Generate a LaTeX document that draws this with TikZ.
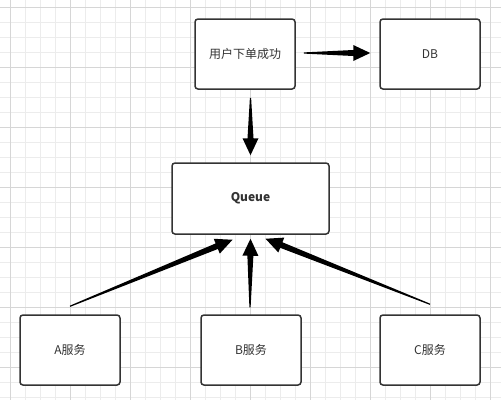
\documentclass[tikz,border=0pt]{standalone}
\usepackage{fontspec}
\setmainfont{Noto Sans CJK SC}
\usetikzlibrary{calc}
\definecolor{gridmajor}{HTML}{D6D6D6}
\definecolor{gridminor}{HTML}{ECECEC}
\definecolor{boxline}{HTML}{333333}
\definecolor{txt}{HTML}{333333}
\newcommand\taparrow[2]{%
  \coordinate (hb) at ($(#2)!17pt!(#1)$);
  \fill[arrowfill] ($(#1)!0.6pt!90:(#2)$) -- ($(hb)!3pt!90:(#2)$) -- ($(hb)!8pt!90:(#2)$) -- (#2)
    -- ($(hb)!8pt!-90:(#2)$) -- ($(hb)!3pt!-90:(#2)$) -- ($(#1)!0.6pt!-90:(#2)$) -- cycle;}
\tikzset{
  box/.style={draw=boxline, line width=1.5pt, rounded corners=3pt, fill=white,
    minimum width=100pt, minimum height=70pt, inner sep=0pt, text=txt,
    font=\fontsize{12}{14}\selectfont},
  arrowfill/.style={fill=black},
  minorline/.style={draw=gridminor, line width=0.8pt},
  majorline/.style={draw=gridmajor, line width=0.8pt}
}
\begin{document}
\begin{tikzpicture}[x=1pt,y=-1pt]
\useasboundingbox (0,0) rectangle (501,400);
\fill[white] (0,0) rectangle (501,400);
\foreach \x in {10,25,...,500} \draw[minorline] (\x,0) -- (\x,400);
\foreach \y in {7,22,...,400} \draw[minorline] (0,\y) -- (501,\y);
\foreach \x in {10,70,...,500} \draw[majorline] (\x,0) -- (\x,400);
\foreach \y in {7,67,...,400} \draw[majorline] (0,\y) -- (501,\y);

\node[box] (user) at (245,54) {用户下单成功};
\node[box] (db) at (430,54) {DB};
\node[box, minimum width=157pt, minimum height=71pt, font=\fontsize{12}{14}\selectfont\bfseries] (queue) at (250.5,198.5) {Queue};
\node[box] (sa) at (70,350) {A服务};
\node[box] (sb) at (251,350) {B服务};
\node[box] (sc) at (430,350) {C服务};

\coordinate (u1) at ($(user.east)+(8,-1)$);
\coordinate (d1) at ($(db.west)+(-9,-1)$);
\taparrow{u1}{d1}
\coordinate (u2) at ($(queue.north |- user.south)+(0,8)$);
\coordinate (q2) at ($(queue.north)+(0,-7)$);
\taparrow{u2}{q2}
\coordinate (a3) at ($(sa.north)+(0,-8)$);
\coordinate (q3) at ($(queue.south)+(-18,5)$);
\taparrow{a3}{q3}
\coordinate (b4) at ($(sb.north)+(-1,-7)$);
\coordinate (q4) at ($(queue.south)+(0,4)$);
\taparrow{b4}{q4}
\coordinate (c5) at ($(sc.north)+(0,-10)$);
\coordinate (q5) at ($(queue.south)+(15,4)$);
\taparrow{c5}{q5}
\end{tikzpicture}
\end{document}
